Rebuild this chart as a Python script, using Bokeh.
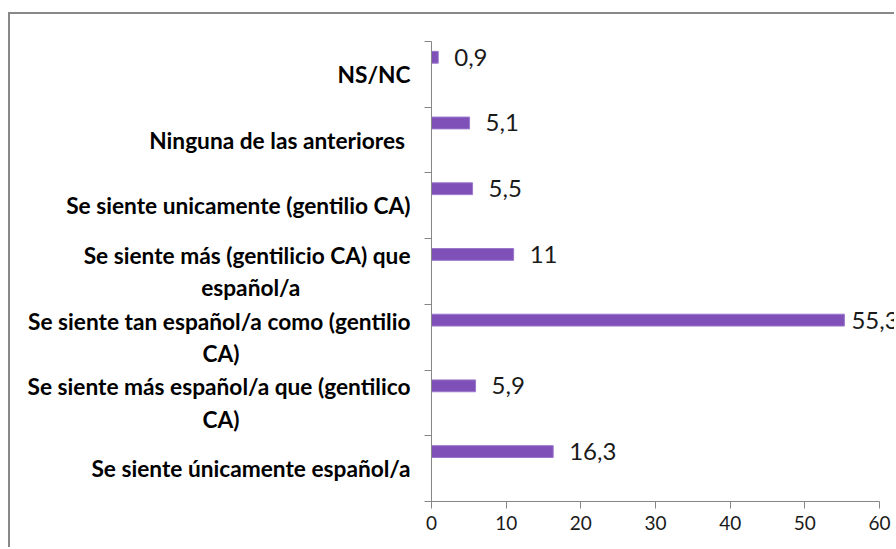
from bokeh.plotting import figure
from bokeh.models import (ColumnDataSource, FactorRange, Range1d, LinearAxis, CategoricalAxis,
                          FixedTicker, LabelSet)
from bokeh.core.properties import value
from bokeh.transform import dodge
from bokeh.embed import file_html
from bokeh.resources import INLINE

NB = "\u00a0"  # non-breaking spaces centre the wrapped second line under the first

# data (bottom to top)
categories = [
    "Se siente únicamente español/a",
    "Se siente más español/a que (gentilico\nCA)" + NB * 31,
    "Se siente tan español/a como (gentilio\nCA)" + NB * 31,
    "Se siente más (gentilicio CA) que\nespañol/a" + NB * 20,
    "Se siente unicamente (gentilio CA)",
    "Ninguna de las anteriores" + NB,
    "NS/NC",
]
values = [16.3, 5.9, 55.3, 11, 5.5, 5.1, 0.9]
value_labels = ["16,3", "5,9", "55,3", "11", "5,5", "5,1", "0,9"]
x_ticks = [0, 10, 20, 30, 40, 50, 60]

label_offsets = [16, 16, 7, 16, 16, 16, 16]

src = ColumnDataSource(dict(cat=categories, val=values, lab=value_labels, off=label_offsets))

W, H = 886, 535
p = figure(width=W, height=H, output_backend="svg", toolbar_location=None,
           y_range=FactorRange(factors=categories, range_padding=0),
           x_range=Range1d(0, 62.28), x_axis_location=None, y_axis_location=None,
           min_border_left=421, min_border_right=0, min_border_top=27, min_border_bottom=48,
           styles={"border-left": "2px solid #888888", "border-top": "2px solid #888888",
                   "margin-left": "8px", "margin-top": "12px"})
p.outline_line_color = None
p.grid.visible = False
p.background_fill_color = "white"
p.border_fill_color = "white"

AX = "#868686"
FONT = "Lato"

p.hbar(y=dodge("cat", 0.26, range=p.y_range), right="val", left=0, height=0.18,
       source=src, fill_color="#7F50B7", line_color="#9a78cc", line_width=1)

labels = LabelSet(x="val", y=dodge("cat", 0.26, range=p.y_range), text="lab", source=src,
                  x_offset="off", text_baseline="middle", text_align="left",
                  text_font=value(FONT), text_font_size=value("24px"), text_color="#1a1a1a")
p.add_layout(labels)

# x axis
xa = LinearAxis(ticker=FixedTicker(ticks=x_ticks), bounds=(0, 60),
                axis_line_color=AX, major_tick_line_color=AX,
                major_tick_out=7, major_tick_in=0, minor_tick_line_color=None,
                major_label_text_font=FONT, major_label_text_font_size="19px",
                major_label_text_color="#1a1a1a", major_label_standoff=7)
p.add_layout(xa, "below")

# band-boundary ticks on y (synthetic factor coordinates)
band_edges = list(range(len(categories) + 1))
ta = LinearAxis(ticker=FixedTicker(ticks=band_edges),
                axis_line_color=AX, major_tick_line_color=AX, major_tick_out=7, major_tick_in=0,
                minor_tick_line_color=None, major_label_overrides={e: "" for e in band_edges},
                major_label_text_color=None, major_label_standoff=0)
p.add_layout(ta, "left")

ya = CategoricalAxis(axis_line_color=None, major_tick_line_color=None, major_tick_out=0,
                     major_label_text_font=FONT, major_label_text_font_style="bold",
                     major_label_text_font_size="22.7px", major_label_text_color="#000000",
                     major_label_standoff=14)
p.add_layout(ya, "left")

open("out.html", "w").write(file_html(p, INLINE))
